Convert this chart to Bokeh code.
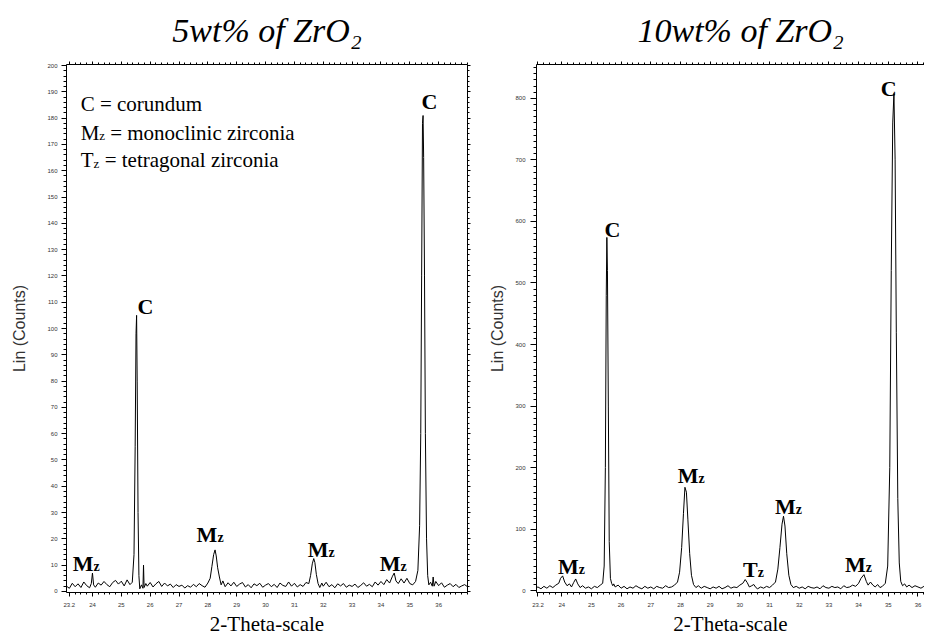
from bokeh.plotting import figure
from bokeh.layouts import row
from bokeh.models import Range1d, FixedTicker, SingleIntervalTicker, LinearAxis
from bokeh.core.properties import value
from bokeh.embed import file_html
from bokeh.resources import INLINE
import numpy as np

# ---------------- data ----------------
x_ticks = [23.2, 24, 25, 26, 27, 28, 29, 30, 31, 32, 33, 34, 35, 36]
x_tick_labels = ["23.2", "24", "25", "26", "27", "28", "29", "30", "31", "32", "33", "34", "35", "36"]

two_theta_5 = [23.10, 23.20, 23.30, 23.40, 23.50, 23.60, 23.70, 23.80, 23.90, 23.96, 24.00, 24.04,
               24.10, 24.20, 24.30, 24.40, 24.50, 24.60, 24.70, 24.80, 24.90, 25.00, 25.10, 25.20,
               25.30, 25.38, 25.44, 25.48, 25.51, 25.53, 25.55, 25.58, 25.61, 25.64, 25.70, 25.75,
               25.77, 25.79, 25.85, 25.90, 26.00, 26.10, 26.20, 26.30, 26.40, 26.50, 26.60, 26.70,
               26.80, 26.90, 27.00, 27.10, 27.20, 27.30, 27.40, 27.50, 27.60, 27.70, 27.80, 27.90,
               28.00, 28.08, 28.14, 28.20, 28.25, 28.29, 28.34, 28.40, 28.46, 28.52, 28.60, 28.70,
               28.80, 28.90, 29.00, 29.10, 29.20, 29.30, 29.40, 29.50, 29.60, 29.70, 29.80, 29.90,
               30.00, 30.10, 30.20, 30.30, 30.40, 30.50, 30.60, 30.70, 30.80, 30.90, 31.00, 31.10,
               31.20, 31.30, 31.40, 31.50, 31.56, 31.62, 31.67, 31.71, 31.76, 31.82, 31.88, 31.95,
               32.00, 32.10, 32.20, 32.30, 32.40, 32.50, 32.60, 32.70, 32.80, 32.90, 33.00, 33.10,
               33.20, 33.30, 33.40, 33.50, 33.60, 33.70, 33.80, 33.90, 34.00, 34.10, 34.20, 34.30,
               34.40, 34.46, 34.52, 34.60, 34.70, 34.80, 34.90, 35.00, 35.10, 35.20, 35.28, 35.34,
               35.38, 35.41, 35.44, 35.46, 35.48, 35.51, 35.54, 35.58, 35.62, 35.66, 35.72, 35.78,
               35.81, 35.84, 35.90, 36.00, 36.10, 36.20, 36.30, 36.40, 36.50, 36.60, 36.70, 36.80,
               36.90, 37.00]
counts_5 = [2.0, 1.2, 3.1, 1.8, 2.9, 1.5, 3.6, 2.2, 1.4, 3.0, 7.0, 2.5,
            1.6, 3.2, 2.4, 3.8, 2.6, 1.8, 3.4, 4.2, 2.8, 3.9, 2.1, 4.4,
            2.6, 3.5, 14, 55, 98, 105, 80, 30, 6, 1.0, 2.5, 1.2,
            10, 1.5, 3.0, 2.0, 3.4, 1.7, 2.9, 3.8, 1.9, 3.2, 2.1, 2.8,
            1.5, 2.6, 1.9, 2.4, 1.3, 2.2, 1.6, 2.7, 1.8, 3.0, 2.2, 1.6,
            3.2, 5.0, 9.5, 14.0, 15.8, 13.5, 9.0, 5.5, 2.5, 4.0, 1.8, 3.3,
            2.1, 3.5, 1.9, 2.8, 3.4, 1.7, 2.6, 1.4, 2.9, 2.2, 3.1, 1.6,
            2.4, 3.0, 1.8, 2.7, 1.5, 3.2, 2.3, 1.9, 3.6, 2.0, 3.1, 1.7,
            2.6, 1.9, 3.4, 3.0, 6.0, 10.5, 12.5, 11.0, 6.5, 3.0, 1.5, 3.2,
            2.0, 3.5, 1.8, 2.6, 1.4, 2.9, 2.1, 3.0, 1.6, 2.4, 1.9, 2.8,
            1.5, 2.3, 3.3, 2.0, 2.7, 1.8, 3.6, 2.4, 3.8, 2.6, 4.5, 3.2,
            5.8, 7.0, 4.0, 3.0, 4.8, 3.2, 5.0, 3.0, 2.5, 3.8, 8, 25,
            60, 120, 178, 181, 165, 120, 60, 20, 6, 2.5, 3.5, 2.0,
            5.5, 2.0, 3.8, 2.2, 3.3, 1.6, 2.4, 3.0, 1.8, 2.7, 1.5, 2.1,
            2.6, 1.8]

two_theta_10 = [23.10, 23.20, 23.30, 23.40, 23.50, 23.60, 23.70, 23.80, 23.90, 23.96, 24.03, 24.10,
                24.18, 24.26, 24.33, 24.40, 24.47, 24.54, 24.62, 24.70, 24.80, 24.90, 25.00, 25.10,
                25.20, 25.30, 25.38, 25.43, 25.47, 25.50, 25.52, 25.54, 25.57, 25.60, 25.64, 25.68,
                25.72, 25.75, 25.80, 25.90, 26.00, 26.10, 26.20, 26.30, 26.40, 26.50, 26.60, 26.70,
                26.80, 26.90, 27.00, 27.10, 27.20, 27.30, 27.40, 27.50, 27.60, 27.70, 27.80, 27.90,
                27.97, 28.04, 28.10, 28.15, 28.20, 28.25, 28.31, 28.37, 28.44, 28.52, 28.60, 28.70,
                28.80, 28.90, 29.00, 29.10, 29.20, 29.30, 29.40, 29.50, 29.60, 29.70, 29.80, 29.90,
                30.00, 30.10, 30.18, 30.25, 30.32, 30.40, 30.47, 30.54, 30.60, 30.70, 30.80, 30.90,
                31.00, 31.10, 31.20, 31.28, 31.35, 31.42, 31.47, 31.52, 31.58, 31.65, 31.72, 31.80,
                31.90, 32.00, 32.10, 32.20, 32.30, 32.40, 32.50, 32.60, 32.70, 32.80, 32.90, 33.00,
                33.10, 33.20, 33.30, 33.40, 33.50, 33.60, 33.70, 33.80, 33.90, 34.00, 34.08, 34.18,
                34.26, 34.32, 34.40, 34.48, 34.56, 34.64, 34.72, 34.80, 34.90, 34.98, 35.05, 35.10,
                35.15, 35.19, 35.23, 35.27, 35.32, 35.37, 35.42, 35.48, 35.55, 35.62, 35.70, 35.80,
                35.90, 36.00, 36.10, 36.20, 36.30]
counts_10 = [4, 6, 3, 7, 4, 8, 5, 9, 12, 20, 24, 14,
             8, 11, 6, 13, 19, 11, 5, 8, 4, 6, 3, 7,
             5, 9, 12, 40, 200, 480, 574, 520, 300, 80, 20, 12,
             8, 11, 6, 9, 4, 7, 3, 6, 4, 8, 5, 3,
             7, 4, 6, 3, 7, 5, 4, 8, 5, 6, 9, 14,
             30, 70, 125, 168, 160, 115, 60, 25, 10, 5, 8, 4,
             7, 5, 3, 6, 4, 7, 3, 5, 8, 4, 6, 5,
             9, 12, 18, 13, 6, 8, 10, 5, 3, 6, 4, 7,
             5, 9, 14, 35, 70, 108, 121, 105, 60, 25, 10, 5,
             7, 4, 6, 3, 7, 5, 4, 6, 3, 8, 5, 4,
             7, 5, 6, 3, 8, 5, 6, 9, 7, 12, 20, 26,
             15, 9, 14, 9, 6, 10, 5, 7, 12, 40, 200, 520,
             760, 808, 700, 420, 150, 45, 15, 8, 11, 6, 9, 5,
             8, 6, 4, 7, 5]

# peak labels (anchor of label in data units)
m_lab_5_x = [24.04, 28.33, 32.18, 34.68]
m_lab_5_y = [10.5, 21.5, 15.8, 10.5]
c_lab_5_x = [25.84, 35.68]
c_lab_5_y = [108.5, 186.5]

m_lab_10_x = [24.57, 28.61, 31.88, 34.24]
m_lab_10_y = [40, 187, 137, 43]
t_lab_10_x = [30.60]
t_lab_10_y = [34]
c_lab_10_x = [25.71, 35.01]
c_lab_10_y = [587, 816]

legend_x = 23.59
legend_y = [185.5, 174.5, 164.0]

SERIF_NAME = "'Liberation Serif', 'Times New Roman', serif"
SERIF = value(SERIF_NAME)


def style_axis(ax, tick_out, minor_out, standoff, label_size="6px"):
    ax.axis_line_color = "black"
    ax.axis_line_width = 1
    ax.major_tick_line_color = "black"
    ax.minor_tick_line_color = "black"
    ax.major_tick_out = tick_out
    ax.major_tick_in = 0
    ax.minor_tick_out = minor_out
    ax.minor_tick_in = 0
    ax.major_label_text_font = "Liberation Sans"
    ax.major_label_text_font_size = label_size
    ax.major_label_text_color = "#333333"
    ax.major_label_standoff = standoff


def make_panel(width, border_left, border_right, xr, yr, y_interval, y_minor,
               title, tick_out_y, label_standoff_y, axlab_standoff_y, right_axis,
               title_align, title_offset):
    p = figure(width=width, height=638, output_backend="svg", toolbar_location=None,
               x_range=Range1d(*xr), y_range=Range1d(*yr),
               min_border_left=border_left, min_border_right=border_right,
               min_border_top=63, min_border_bottom=42,
               x_axis_location=None, y_axis_location=None)
    p.grid.visible = False
    p.outline_line_color = None
    p.background_fill_color = "white"
    p.border_fill_color = "white"

    p.title.text = title
    p.title.text_font = SERIF_NAME
    p.title.text_font_style = "italic"
    p.title.text_font_size = "34px"
    p.title.text_color = "black"
    p.title.align = title_align
    p.title.offset = title_offset
    p.title.standoff = 22
    p.title.vertical_align = "top"

    minor_x = [round(v, 2) for v in np.arange(23.2, 37.01, 0.2)]
    xticker = FixedTicker(ticks=x_ticks, minor_ticks=minor_x)
    overrides = {t: l for t, l in zip(x_ticks, x_tick_labels)}

    xb = LinearAxis(ticker=xticker, major_label_overrides=overrides,
                    axis_label="2-Theta-scale")
    style_axis(xb, 4, 2, 6)
    xb.axis_label_text_font = SERIF_NAME
    xb.axis_label_text_font_style = "normal"
    xb.axis_label_text_font_size = "21px"
    xb.axis_label_text_color = "black"
    xb.axis_label_standoff = 2
    p.add_layout(xb, "below")

    xa = LinearAxis(ticker=xticker)
    style_axis(xa, 3, 2, 0, label_size="0px")
    xa.major_label_text_alpha = 0
    p.add_layout(xa, "above")

    yticker = SingleIntervalTicker(interval=y_interval, num_minor_ticks=y_minor)
    yl = LinearAxis(ticker=yticker, axis_label="Lin (Counts)")
    style_axis(yl, tick_out_y, 3, label_standoff_y)
    yl.axis_label_text_font = "Liberation Sans"
    yl.axis_label_text_font_style = "normal"
    yl.axis_label_text_font_size = "16px"
    yl.axis_label_text_color = "#333333"
    yl.axis_label_standoff = axlab_standoff_y
    p.add_layout(yl, "left")

    if right_axis:
        yr_ax = LinearAxis(ticker=yticker)
        style_axis(yr_ax, 3, 2, 0, label_size="0px")
        yr_ax.major_label_text_alpha = 0
        p.add_layout(yr_ax, "right")
    return p


def add_label(p, xs, ys, main, sub, size=22, sub_size=14):
    p.text(x=xs, y=ys, text=[main] * len(xs), text_font=SERIF, text_font_style="bold",
           text_font_size=f"{size}px", text_align="right", text_baseline="alphabetic",
           text_color="black")
    if sub:
        p.text(x=xs, y=ys, text=[sub] * len(xs), text_font=SERIF, text_font_style="bold",
               text_font_size=f"{sub_size}px", text_align="left", text_baseline="alphabetic",
               y_offset=3, text_color="black")


def add_c(p, xs, ys, size=22):
    p.text(x=xs, y=ys, text=["C"] * len(xs), text_font=SERIF, text_font_style="bold",
           text_font_size=f"{size}px", text_align="center", text_baseline="alphabetic",
           text_color="black")


# ---------------- left panel ----------------
p1 = make_panel(475, 66, 8, (23.1, 37.0), (-0.4, 200.4), 10, 5,
                "5wt% of ZrO\u2082", 5, 4, 16, True, "center", 0)
p1.line(two_theta_5, counts_5, line_color="black", line_width=1)
add_label(p1, m_lab_5_x, m_lab_5_y, "M", "z")
add_c(p1, c_lab_5_x, c_lab_5_y)

# legend text
lt = dict(text_font=SERIF, text_font_size="21px", text_baseline="alphabetic",
          text_align="left", text_color="black")
st = dict(text_font=SERIF, text_font_size="13px", text_baseline="alphabetic",
          text_align="left", text_color="black")
p1.text(x=[legend_x], y=[legend_y[0]], text=["C = corundum"], **lt)
p1.text(x=[legend_x], y=[legend_y[1]], text=["M"], **lt)
p1.text(x=[legend_x], y=[legend_y[1]], text=["z"], x_offset=18.5, y_offset=3, **st)
p1.text(x=[legend_x], y=[legend_y[1]], text=["= monoclinic zirconia"], x_offset=29.5, **lt)
p1.text(x=[legend_x], y=[legend_y[2]], text=["T"], **lt)
p1.text(x=[legend_x], y=[legend_y[2]], text=["z"], x_offset=12.8, y_offset=3, **st)
p1.text(x=[legend_x], y=[legend_y[2]], text=["= tetragonal zirconia"], x_offset=24, **lt)

# ---------------- right panel ----------------
p2 = make_panel(449, 61, 0, (23.15, 36.22), (-3, 855), 100, 10,
                "10wt% of ZrO\u2082", 6, 5, 6, False, "left", 101)
p2.line(two_theta_10, counts_10, line_color="black", line_width=1)
add_label(p2, m_lab_10_x, m_lab_10_y, "M", "z")
add_label(p2, t_lab_10_x, t_lab_10_y, "T", "z")
add_c(p2, c_lab_10_x, c_lab_10_y)

layout = row(p1, p2)
open("out.html", "w").write(file_html(layout, INLINE))
